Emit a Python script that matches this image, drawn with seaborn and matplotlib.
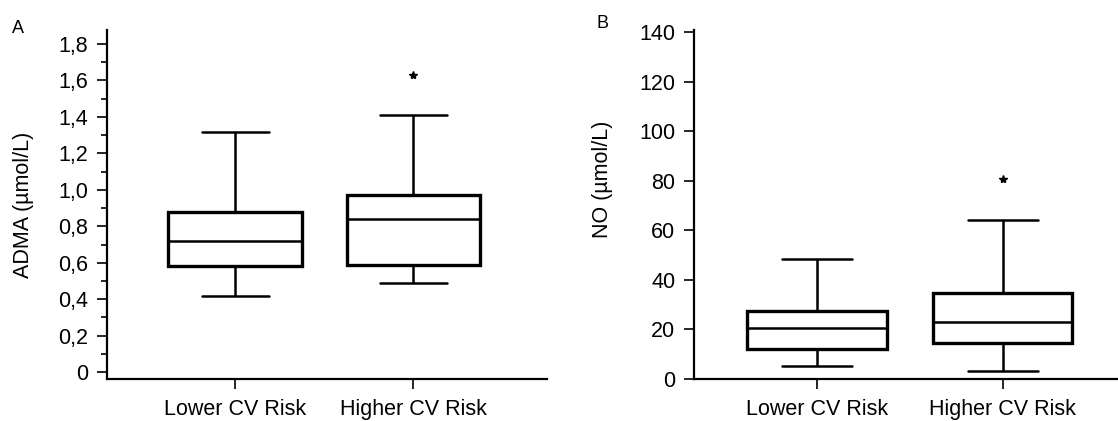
import matplotlib
matplotlib.use("Agg")
import matplotlib.pyplot as plt
import numpy as np
import pandas as pd
import seaborn as sns
from matplotlib.ticker import FuncFormatter, MultipleLocator

# Resumo dos boxplots (por grupo)
grupos = ["Lower CV Risk", "Higher CV Risk"]

adma_min = [0.42, 0.49]
adma_q1 = [0.58, 0.59]
adma_med = [0.72, 0.84]
adma_q3 = [0.88, 0.97]
adma_max = [1.32, 1.41]
adma_outlier = [None, 1.63]

no_min = [5.1, 3.1]
no_q1 = [12.3, 14.5]
no_med = [20.5, 23.0]
no_q3 = [27.3, 34.6]
no_max = [48.3, 64.1]
no_outlier = [None, 81.0]


def amostra(lo, q1, med, q3, hi, out):
    """Valores cujos quartis (interpolação linear) batem com o resumo."""
    if out is None:
        return [lo, q1, med, q3, hi]
    # n = 9 -> quartis nas posições 2, 4 e 6
    return [lo, lo, q1, q1, med, med, q3, hi, out]


def montar_df(mins, q1s, meds, q3s, maxs, outs):
    linhas = []
    for g, lo, a, m, b, hi, o in zip(grupos, mins, q1s, meds, q3s, maxs, outs):
        for v in amostra(lo, a, m, b, hi, o):
            linhas.append({"grupo": g, "valor": v})
    return pd.DataFrame(linhas)


df_adma = montar_df(adma_min, adma_q1, adma_med, adma_q3, adma_max, adma_outlier)
df_no = montar_df(no_min, no_q1, no_med, no_q3, no_max, no_outlier)

sns.set_style("ticks")
plt.rcParams["font.family"] = ["Liberation Sans", "DejaVu Sans"]
plt.rcParams.update({
    "text.color": "black", "axes.labelcolor": "black", "axes.edgecolor": "black",
    "xtick.color": "black", "ytick.color": "black",
})
FS = 15.5

fig = plt.figure(figsize=(11.18, 4.21), dpi=100)
ax_a = fig.add_axes([107 / 1118, 42 / 421, 440 / 1118, 349 / 421])
ax_b = fig.add_axes([694 / 1118, 42 / 421, 424 / 1118, 349 / 421])

estilo = dict(
    order=grupos, width=0.75, color="white", linecolor="black",
    boxprops=dict(linewidth=2.4, edgecolor="black", facecolor="white"),
    whiskerprops=dict(linewidth=1.8, color="black"),
    capprops=dict(linewidth=1.8, color="black"),
    medianprops=dict(linewidth=1.8, color="black"),
    flierprops=dict(marker="*", markersize=6, markerfacecolor="black",
                    markeredgecolor="black"),
)

for ax, df in [(ax_a, df_adma), (ax_b, df_no)]:
    sns.boxplot(data=df, x="grupo", y="valor", ax=ax, **estilo)
    ax.set_xlabel("")
    for side in ["top", "right"]:
        ax.spines[side].set_visible(False)
    for side in ["left", "bottom"]:
        ax.spines[side].set_linewidth(1.6)
    ax.tick_params(axis="both", which="major", length=7.5, width=1.2,
                   labelsize=FS, color="black", labelcolor="black")
    ax.tick_params(axis="y", pad=6)
    ax.tick_params(axis="x", pad=7)

# Painel A
ax_a.set_xlim(-0.72, 1.75)
ax_a.set_ylim(-0.038, 1.877)
ax_a.yaxis.set_major_locator(MultipleLocator(0.2))
ax_a.yaxis.set_minor_locator(MultipleLocator(0.1))
ax_a.tick_params(axis="y", which="minor", length=4, width=1.2)
ax_a.yaxis.set_major_formatter(
    FuncFormatter(lambda v, _: "0" if abs(v) < 1e-9 else f"{v:.1f}".replace(".", ",")))
ax_a.set_ylabel("ADMA (µmol/L)", fontsize=FS)
ax_a.yaxis.set_label_coords(-0.165, 0.5)

# Painel B
ax_b.set_xlim(-0.663, 1.62)
ax_b.set_ylim(0, 141)
ax_b.yaxis.set_major_locator(MultipleLocator(20))
ax_b.set_ylabel("NO (µmol/L)", fontsize=FS)
ax_b.yaxis.set_label_coords(-0.19, 0.573)

fig.text(12 / 1118, 1 - 33 / 421, "A", fontsize=13, ha="left", va="baseline")
fig.text(597 / 1118, 1 - 28 / 421, "B", fontsize=13, ha="left", va="baseline")

fig.savefig("out.png", dpi=100)
